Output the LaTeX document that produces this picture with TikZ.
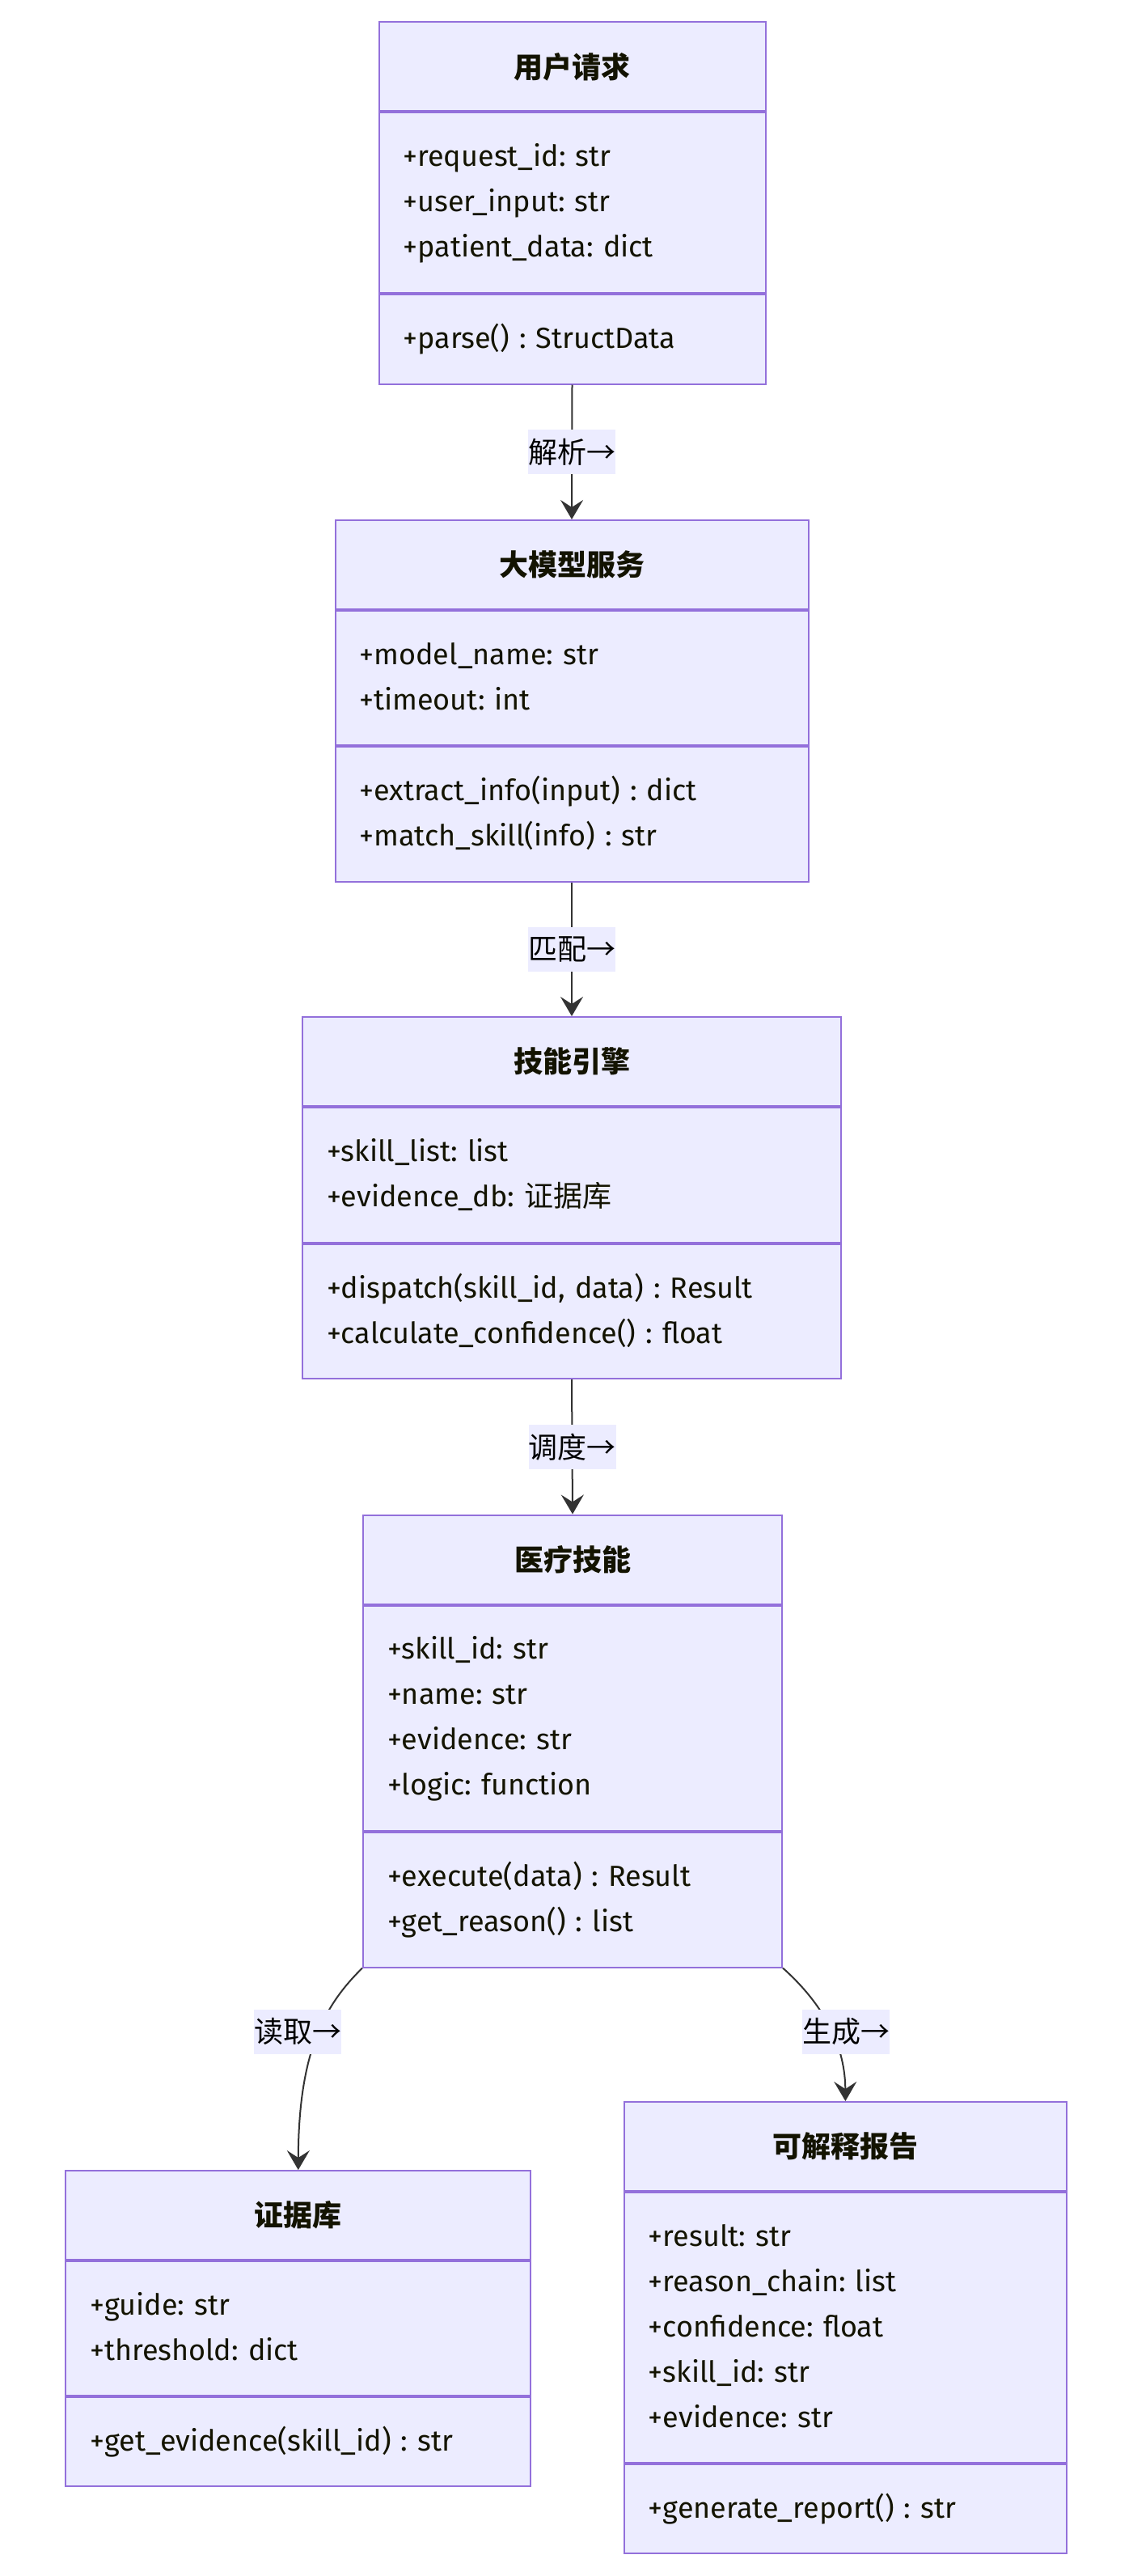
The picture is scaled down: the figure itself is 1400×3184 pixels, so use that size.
\documentclass[tikz,border=0pt]{standalone}
\usepackage{fontspec}
\setmainfont{Fira Sans}
\newfontfamily\cjk{Noto Sans CJK SC}
\usetikzlibrary{arrows.meta}
\frenchspacing

\definecolor{classfill}{HTML}{ECECFF}
\definecolor{classline}{HTML}{9370DB}
\definecolor{edgeline}{HTML}{333333}
\definecolor{txt}{HTML}{131300}

\tikzset{
	compart/.style={draw=classline, fill=classfill, line width=2pt, anchor=north, inner sep=0pt, text=txt},
	titlebox/.style={compart, minimum height=110pt, font=\cjk\bfseries\fontsize{36}{56}\selectfont},
	membox/.style={compart, align=left, font=\fontsize{36}{56}\selectfont,
		execute at begin node=\strut, execute at end node=\strut},
	edge/.style={draw=edgeline, line width=2pt, -{Stealth[length=24pt,width=28pt,inset=9pt]}},
	elabel/.style={fill=classfill, inner sep=0pt, minimum height=55pt, text=black,
		font=\cjk\fontsize{36}{44}\selectfont},
}

\begin{document}
\begin{tikzpicture}[x=1pt,y=-1pt]
		\useasboundingbox (0,0) rectangle (1400,3184);

		% 用户请求
		\node[titlebox, minimum width=478pt] (user) at (707.5,26.5) {用户请求};
		\node[membox, minimum width=478pt, text width=418pt, minimum height=222pt] (user-attr) at (user.south)
			{+request\_id: str\\+user\_input: str\\+patient\_data: dict};
		\node[membox, minimum width=478pt, text width=418pt, minimum height=111pt] (user-op) at (user-attr.south)
			{+parse() : StructData};

		% 大模型服务
		\node[titlebox, minimum width=585pt] (llm) at (707,642) {大模型服务};
		\node[membox, minimum width=585pt, text width=525pt, minimum height=166pt] (llm-attr) at (llm.south)
			{+model\_name: str\\+timeout: int};
		\node[membox, minimum width=585pt, text width=525pt, minimum height=167pt] (llm-op) at (llm-attr.south)
			{+extract\_info(input) : dict\\+match\_skill(info) : str};

		% 技能引擎
		\node[titlebox, minimum width=666pt] (engine) at (707,1256) {技能引擎};
		\node[membox, minimum width=666pt, text width=606pt, minimum height=167pt] (engine-attr) at (engine.south)
			{+skill\_list: list\\+evidence\_db: {\cjk 证据库}};
		\node[membox, minimum width=666pt, text width=606pt, minimum height=166pt] (engine-op) at (engine-attr.south)
			{+dispatch(skill\_id, data) : Result\\+calculate\_confidence() : float};

		% 医疗技能
		\node[titlebox, minimum width=518pt] (skill) at (708,1871.5) {医疗技能};
		\node[membox, minimum width=518pt, text width=458pt, minimum height=278pt] (skill-attr) at (skill.south)
			{+skill\_id: str\\+name: str\\+evidence: str\\+logic: function};
		\node[membox, minimum width=518pt, text width=458pt, minimum height=167pt] (skill-op) at (skill-attr.south)
			{+execute(data) : Result\\+get\_reason() : list};

		% 证据库
		\node[titlebox, minimum width=575pt] (evid) at (368.8,2682) {证据库};
		\node[membox, minimum width=575pt, text width=515pt, minimum height=166pt] (evid-attr) at (evid.south)
			{+guide: str\\+threshold: dict};
		\node[membox, minimum width=575pt, text width=515pt, minimum height=110pt] (evid-op) at (evid-attr.south)
			{+get\_evidence(skill\_id) : str};

		% 可解释报告
		\node[titlebox, minimum width=547pt] (report) at (1045.4,2597) {可解释报告};
		\node[membox, minimum width=547pt, text width=487pt, minimum height=334pt] (report-attr) at (report.south)
			{+result: str\\+reason\_chain: list\\+confidence: float\\+skill\_id: str\\+evidence: str};
		\node[membox, minimum width=547pt, text width=487pt, minimum height=110pt] (report-op) at (report-attr.south)
			{+generate\_report() : str};

		% Straight links
		\draw[edge] (user-op.south) -- node[elabel] (l-parse) {解析→} (llm.north);
		\draw[edge] (llm-op.south) -- node[elabel] (l-match) {匹配→} (engine.north);
		\draw[edge] (engine-op.south) -- node[elabel] (l-dispatch) {调度→} (skill.north);

		% Curved links
		\draw[edge] (skill-op.south west) .. controls (405,2475) and (369,2530) .. (evid.north);
		\draw[edge] (skill-op.south east) .. controls (1010,2470) and (1045,2520) .. (report.north);
		\node[elabel] (l-read) at (368,2511) {读取→};
		\node[elabel] (l-make) at (1046,2511) {生成→};

\end{tikzpicture}
\end{document}
